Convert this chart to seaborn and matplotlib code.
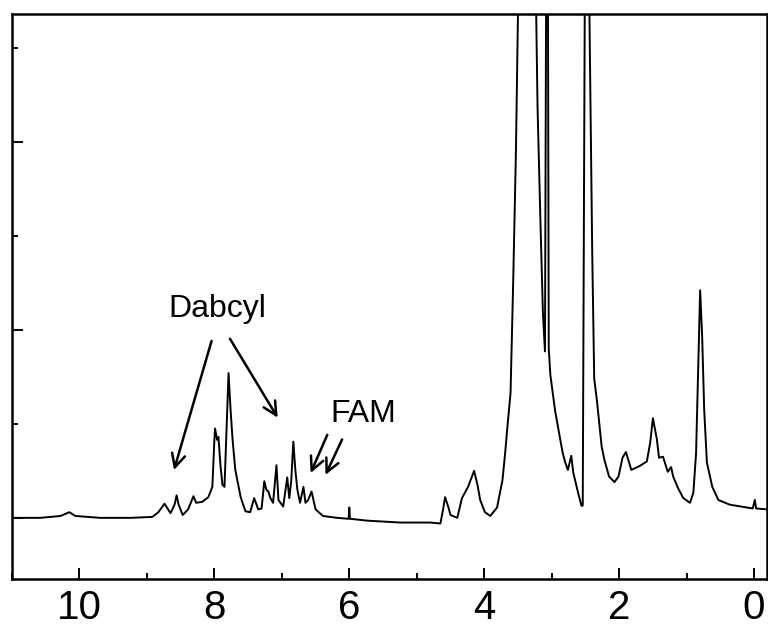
import matplotlib
matplotlib.use("Agg")
import matplotlib.pyplot as plt
import seaborn as sns
from matplotlib.ticker import MultipleLocator, NullFormatter

# 1H NMR trace (chemical shift in ppm, intensity in arb. units)
ppm = [10.99, 10.58, 10.28, 10.15, 10.06, 9.69, 9.24, 8.92, 8.83, 8.74,
       8.65, 8.59, 8.56, 8.53, 8.47, 8.39, 8.31, 8.27, 8.18, 8.09,
       8.03, 8.00, 7.99, 7.96, 7.94, 7.91, 7.88, 7.85, 7.82, 7.79,
       7.76, 7.73, 7.69, 7.61, 7.54, 7.47, 7.41, 7.35, 7.30, 7.26,
       7.23, 7.20, 7.17, 7.13, 7.08, 7.05, 6.98, 6.92, 6.89, 6.86,
       6.83, 6.80, 6.77, 6.73, 6.68, 6.65, 6.61, 6.56, 6.50, 6.39,
       6.18, 6.01, 6.00, 5.99, 5.73, 5.24, 4.80, 4.65, 4.61, 4.58,
       4.53, 4.50, 4.40, 4.33, 4.24, 4.15, 4.10, 4.06, 3.99, 3.91,
       3.81, 3.73, 3.69, 3.66, 3.61, 3.57, 3.53, 3.50, 3.38, 3.23,
       3.21, 3.17, 3.13, 3.10, 3.067, 3.052, 3.044, 3.02, 2.95, 2.90,
       2.84, 2.80, 2.76, 2.71, 2.68, 2.61, 2.56, 2.54, 2.49, 2.47,
       2.44, 2.40, 2.37, 2.33, 2.32, 2.26, 2.22, 2.15, 2.07, 2.01,
       1.95, 1.90, 1.82, 1.70, 1.59, 1.54, 1.50, 1.44, 1.41, 1.35,
       1.28, 1.23, 1.20, 1.13, 1.05, 0.95, 0.90, 0.86, 0.83, 0.80,
       0.77, 0.74, 0.70, 0.62, 0.53, 0.36, 0.10, 0.02, -0.01, -0.03,
       -0.19]
intensity = [0.00, 0.00, 0.02, 0.06, 0.02, 0.00, 0.00, 0.01, 0.06, 0.15,
             0.05, 0.14, 0.24, 0.14, 0.03, 0.09, 0.23, 0.16, 0.17, 0.22,
             0.33, 0.83, 0.95, 0.83, 0.86, 0.56, 0.35, 0.33, 0.94, 1.54,
             1.15, 0.83, 0.51, 0.22, 0.07, 0.06, 0.21, 0.09, 0.10, 0.39,
             0.30, 0.28, 0.21, 0.16, 0.56, 0.19, 0.12, 0.43, 0.21, 0.40,
             0.81, 0.51, 0.30, 0.16, 0.33, 0.16, 0.19, 0.28, 0.09, 0.02,
             0.00, -0.01, 0.11, -0.01, -0.03, -0.05, -0.05, -0.06, 0.09, 0.22,
             0.11, 0.03, 0.00, 0.21, 0.33, 0.50, 0.35, 0.19, 0.06, 0.02,
             0.11, 0.40, 0.69, 0.94, 1.33, 2.54, 3.91, 5.36, 9.00, 5.36,
             4.37, 3.23, 2.17, 1.77, 9.00, 4.40, 1.80, 1.52, 1.14, 0.94,
             0.70, 0.59, 0.51, 0.66, 0.48, 0.27, 0.13, 0.13, 9.00, 9.00,
             5.30, 2.85, 1.48, 1.25, 1.18, 0.76, 0.62, 0.44, 0.38, 0.44,
             0.64, 0.70, 0.51, 0.55, 0.60, 0.80, 1.06, 0.83, 0.64, 0.65,
             0.49, 0.54, 0.44, 0.32, 0.21, 0.16, 0.27, 0.69, 1.57, 2.42,
             1.93, 1.15, 0.59, 0.33, 0.19, 0.14, 0.11, 0.10, 0.19, 0.10,
             0.09]

sns.set_theme(style="ticks")
plt.rcParams["font.family"] = ["Liberation Sans", "DejaVu Sans"]
plt.rcParams["text.color"] = "black"

fig = plt.figure(figsize=(7.68, 6.3), dpi=100)
ax = fig.add_axes([0.0156, 0.081, 0.983, 0.897])

sns.lineplot(x=ppm, y=intensity, sort=False, estimator=None, color="black",
             linewidth=1.4, ax=ax)

ax.set_xlim(11.0, -0.19)
ax.set_ylim(-0.65, 5.36)

ax.xaxis.set_major_locator(MultipleLocator(2))
ax.xaxis.set_minor_locator(MultipleLocator(1))
ax.yaxis.set_major_locator(MultipleLocator(2))
ax.yaxis.set_minor_locator(MultipleLocator(1))
ax.yaxis.set_major_formatter(NullFormatter())
ax.set_xticks([10, 8, 6, 4, 2, 0])
ax.set_xticklabels(["10", "8", "6", "4", "2", "0"])

ax.tick_params(axis="both", which="major", direction="in", length=8, width=1.4,
               labelsize=29, pad=7, colors="black")
ax.tick_params(axis="both", which="minor", direction="in", length=4, width=1.4,
               colors="black")
ax.tick_params(top=False, right=False, which="both")
for s in ax.spines.values():
    s.set_linewidth(1.8)
    s.set_color("black")

# labels with arrows
ax.text(7.95, 2.14, "Dabcyl", fontsize=23, ha="center", va="baseline", color="black")
ax.text(5.79, 1.02, "FAM", fontsize=23, ha="center", va="baseline", color="black")
arrow = dict(arrowstyle="->", lw=1.8, color="black", mutation_scale=24)
ax.annotate("", xy=(8.61, 0.48), xytext=(8.03, 1.91), arrowprops=arrow)
ax.annotate("", xy=(7.04, 1.04), xytext=(7.79, 1.93), arrowprops=arrow)
ax.annotate("", xy=(6.59, 0.45), xytext=(6.31, 0.91), arrowprops=arrow)
ax.annotate("", xy=(6.37, 0.43), xytext=(6.09, 0.86), arrowprops=arrow)

ax.set_xlabel("")
ax.set_ylabel("")

fig.savefig("out.png", dpi=100)
